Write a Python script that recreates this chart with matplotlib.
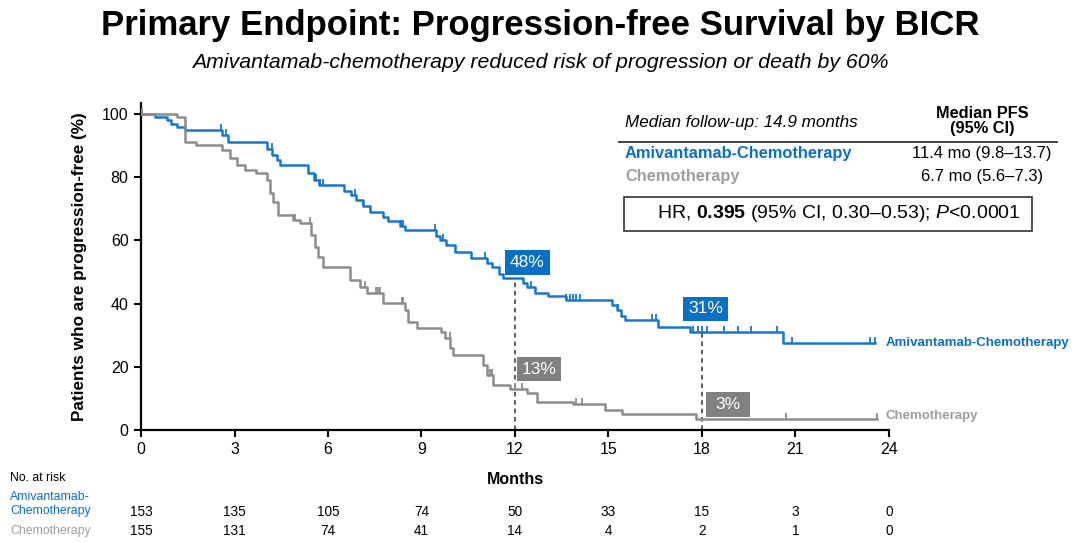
import numpy as np
import matplotlib
matplotlib.use('Agg')
from matplotlib import pyplot as plt
from matplotlib import transforms
from matplotlib.patches import Rectangle

plt.rcParams['font.family'] = ['Liberation Sans', 'DejaVu Sans']
plt.rcParams['mathtext.fontset'] = 'custom'
plt.rcParams['mathtext.rm'] = 'Liberation Sans'
plt.rcParams['mathtext.bf'] = 'Liberation Sans:bold'
plt.rcParams['mathtext.it'] = 'Liberation Sans:italic'

BLUE = '#0A70C4'
BLUE_LINE = '#1677CB'
GRAY_LINE = '#8C8C8C'
GRAY_BOX = '#808080'
GRAY_TXT = '#9E9E9E'

# Kaplan-Meier steps: time of drop (months), survival after drop (%)
ami_t = [0, 0.45, 0.85, 0.95, 1.15, 1.4, 2.6, 2.8, 4.05, 4.2, 4.35, 4.46, 5.35, 5.55, 5.7,
         6.5, 6.75, 6.91, 7.13, 7.35, 7.75, 7.93, 8.3, 8.47, 9.45, 9.6, 9.8, 10.07, 10.6,
         11.1, 11.25, 11.5, 11.62, 12.27, 12.4, 12.64, 13.06, 13.65, 15.1, 15.26, 15.4,
         15.53, 16.6, 17.6, 20.6]
ami_s = [100, 99.1, 98, 97, 96, 95, 93.5, 91.2, 89, 87, 85.5, 84, 81.3, 79, 77.6,
         75.5, 74.5, 72.8, 71, 69.1, 67.5, 66, 64.5, 63.3, 61.5, 60.1, 58.5, 56.4, 54.3,
         53, 51.7, 49.5, 48.2, 46.5, 45.4, 43.3, 42.3, 41.1, 39.5, 38, 36,
         34.8, 32.7, 31.1, 27.4]
ami_end = 23.55
ami_cens = [0.02, 2.58, 2.74, 4.19, 5.6, 5.75, 5.84, 6.86, 7.13, 8.35, 8.42, 9.43, 9.69,
            11.04, 12.5, 13.65, 13.76, 13.86, 13.97, 14.08, 15.3, 16.4, 16.54, 17.7,
            17.87, 18.0, 18.15, 18.7, 19.15, 19.57, 20.4, 20.9, 23.4, 23.55]

chemo_t = [0, 1.15, 1.4, 1.78, 2.6, 2.85, 3.07, 3.34, 3.7, 4.03, 4.14, 4.24, 4.4, 4.88,
           5.1, 5.45, 5.58, 5.68, 5.84, 6.72, 7.03, 7.24, 7.77, 8.47, 8.57, 8.84, 9.64,
           9.75, 9.91, 10.0, 10.98, 11.09, 11.3, 11.84, 12.37, 12.69, 13.86, 14.89,
           15.42, 17.82]
chemo_s = [100, 99.2, 91.2, 90.2, 88.6, 86, 83.9, 82.3, 81.2, 79, 75, 72.3, 68, 66.5,
           65.5, 61.7, 58, 54.8, 51.7, 47.5, 45.4, 43.3, 40.1, 38, 34.3, 32.2, 31.1,
           29, 25.8, 23.7, 20.6, 17.4, 14.3, 13.0, 11.6, 9.0, 8.1, 6.3,
           5.1, 3.4]
chemo_end = 23.6
chemo_cens = [0.02, 4.94, 5.42, 7.19, 7.55, 7.6, 7.66, 8.36, 8.42, 9.9, 11.2, 11.25,
              12.0, 12.24, 13.95, 14.16, 20.7, 23.6]

month_ticks = [0, 3, 6, 9, 12, 15, 18, 21, 24]
ami_risk = [153, 135, 105, 74, 50, 33, 15, 3, 0]
chemo_risk = [155, 131, 74, 41, 14, 4, 2, 1, 0]

landmark_months = [12, 18]
ami_landmark = ['48%', '31%']
chemo_landmark = ['13%', '3%']


def surv_at(times, surv, t):
    i = np.searchsorted(times, t, side='right') - 1
    return np.asarray(surv)[i]


def fy(py):
    # pixel row (from top) -> figure fraction
    return 1 - py / 543


fig = plt.figure(figsize=(10.8, 5.43), dpi=100)
ax = fig.add_axes([141 / 1080, fy(430), 748 / 1080, (430 - 103) / 543])

for t, s, end, cens, col in [(ami_t, ami_s, ami_end, ami_cens, BLUE_LINE),
                             (chemo_t, chemo_s, chemo_end, chemo_cens, GRAY_LINE)]:
    xs = list(t) + [end]
    ys = list(s) + [s[-1]]
    ax.step(xs, ys, where='post', color=col, lw=1.8, zorder=3)
    cy = [surv_at(t, s, c) for c in cens]
    ax.plot(cens, cy, ls='none', marker=[(0, 0), (0, 1)], ms=8.5, mew=1.3, color=col, zorder=3)

# landmark dashed lines and labels
box_w, box_h = 1.42, 7.8
ami_box_xy = [(12.4, 53.0), (18.11, 38.3)]
chemo_box_xy = [(12.78, 19.3), (18.83, 8.05)]
for m, lab_a, lab_c, (xa, ya), (xc, yc) in zip(landmark_months, ami_landmark, chemo_landmark,
                                               ami_box_xy, chemo_box_xy):
    ax.plot([m, m], [0, surv_at(ami_t, ami_s, m)], ls=(0, (3, 2.5)), color='#333333', lw=1.1, zorder=2)
    for (x, y, lab, fc) in [(xa, ya, lab_a, BLUE), (xc, yc, lab_c, GRAY_BOX)]:
        ax.add_patch(Rectangle((x - box_w / 2, y - box_h / 2), box_w, box_h, fc=fc, ec='none', zorder=4))
        ax.text(x, y, lab, color='white', fontsize=12.5, ha='center', va='center', zorder=5)

ax.text(23.9, ami_s[-1], 'Amivantamab-Chemotherapy', color=BLUE, fontsize=9.5, fontweight='bold',
        va='center', ha='left', clip_on=False)
ax.text(23.9, chemo_s[-1] + 1.0, 'Chemotherapy', color=GRAY_TXT, fontsize=9.5, fontweight='bold',
        va='center', ha='left', clip_on=False)

ax.set_xlim(0, 24)
ax.set_ylim(0, 103.5)
ax.set_xticks(month_ticks)
ax.set_yticks([0, 20, 40, 60, 80, 100])
ax.tick_params(direction='out', length=5, width=1.5, labelsize=11.5, pad=4)
for side in ['top', 'right']:
    ax.spines[side].set_visible(False)
for side in ['left', 'bottom']:
    ax.spines[side].set_linewidth(1.6)
ax.set_ylabel('Patients who are progression-free (%)', fontsize=12.3, fontweight='bold', labelpad=11)

fig.text(515 / 1080, fy(480), 'Months', fontsize=11.5, fontweight='bold', ha='center', va='center')

# titles
fig.text(0.5, fy(26), 'Primary Endpoint: Progression-free Survival by BICR', fontsize=25,
         fontweight='bold', ha='center', va='center')
fig.text(0.5, fy(62), 'Amivantamab-chemotherapy reduced risk of progression or death by 60%',
         fontsize=15.3, style='italic', ha='center', va='center')

# median PFS table
fig.text(625 / 1080, fy(122), 'Median follow-up: 14.9 months', fontsize=12.3, style='italic',
         ha='left', va='center')
fig.text(982 / 1080, fy(121), 'Median PFS\n(95% CI)', fontsize=11.8, fontweight='bold',
         ha='center', va='center', linespacing=1.05)
fig.add_artist(plt.Line2D([619 / 1080, 1057 / 1080], [fy(142), fy(142)], color='#333333', lw=1.3))
fig.text(625 / 1080, fy(154), 'Amivantamab-Chemotherapy', fontsize=11.8, fontweight='bold',
         color=BLUE, ha='left', va='center')
fig.text(982 / 1080, fy(154), '11.4 mo (9.8\u201313.7)', fontsize=12, ha='center', va='center')
fig.text(625 / 1080, fy(176), 'Chemotherapy', fontsize=11.8, fontweight='bold',
         color=GRAY_TXT, ha='left', va='center')
fig.text(982 / 1080, fy(176), '6.7 mo (5.6\u20137.3)', fontsize=12, ha='center', va='center')
fig.add_artist(Rectangle((624 / 1080, fy(231)), 408 / 1080, 34 / 543, transform=fig.transFigure,
                         fc='white', ec='#333333', lw=1.2))
fig.text(839 / 1080, fy(214), r'HR, $\mathbf{0.395}$ (95% CI, 0.30$\endash$0.53); $\mathit{P}$<0.0001',
         fontsize=14, ha='center', va='center')

# numbers at risk
trans = transforms.blended_transform_factory(ax.transData, fig.transFigure)
fig.text(10 / 1080, fy(478), 'No. at risk', fontsize=8.8, ha='left', va='center')
fig.text(10 / 1080, fy(504), 'Amivantamab-\nChemotherapy', fontsize=8.8, color=BLUE,
         ha='left', va='center', linespacing=1.15)
fig.text(10 / 1080, fy(531), 'Chemotherapy', fontsize=8.8, color=GRAY_TXT, ha='left', va='center')
for m, a, c in zip(month_ticks, ami_risk, chemo_risk):
    ax.text(m, fy(512), str(a), transform=trans, fontsize=9.8, ha='center', va='center', clip_on=False)
    ax.text(m, fy(531), str(c), transform=trans, fontsize=9.8, ha='center', va='center', clip_on=False)

fig.savefig('out.png', dpi=100)
